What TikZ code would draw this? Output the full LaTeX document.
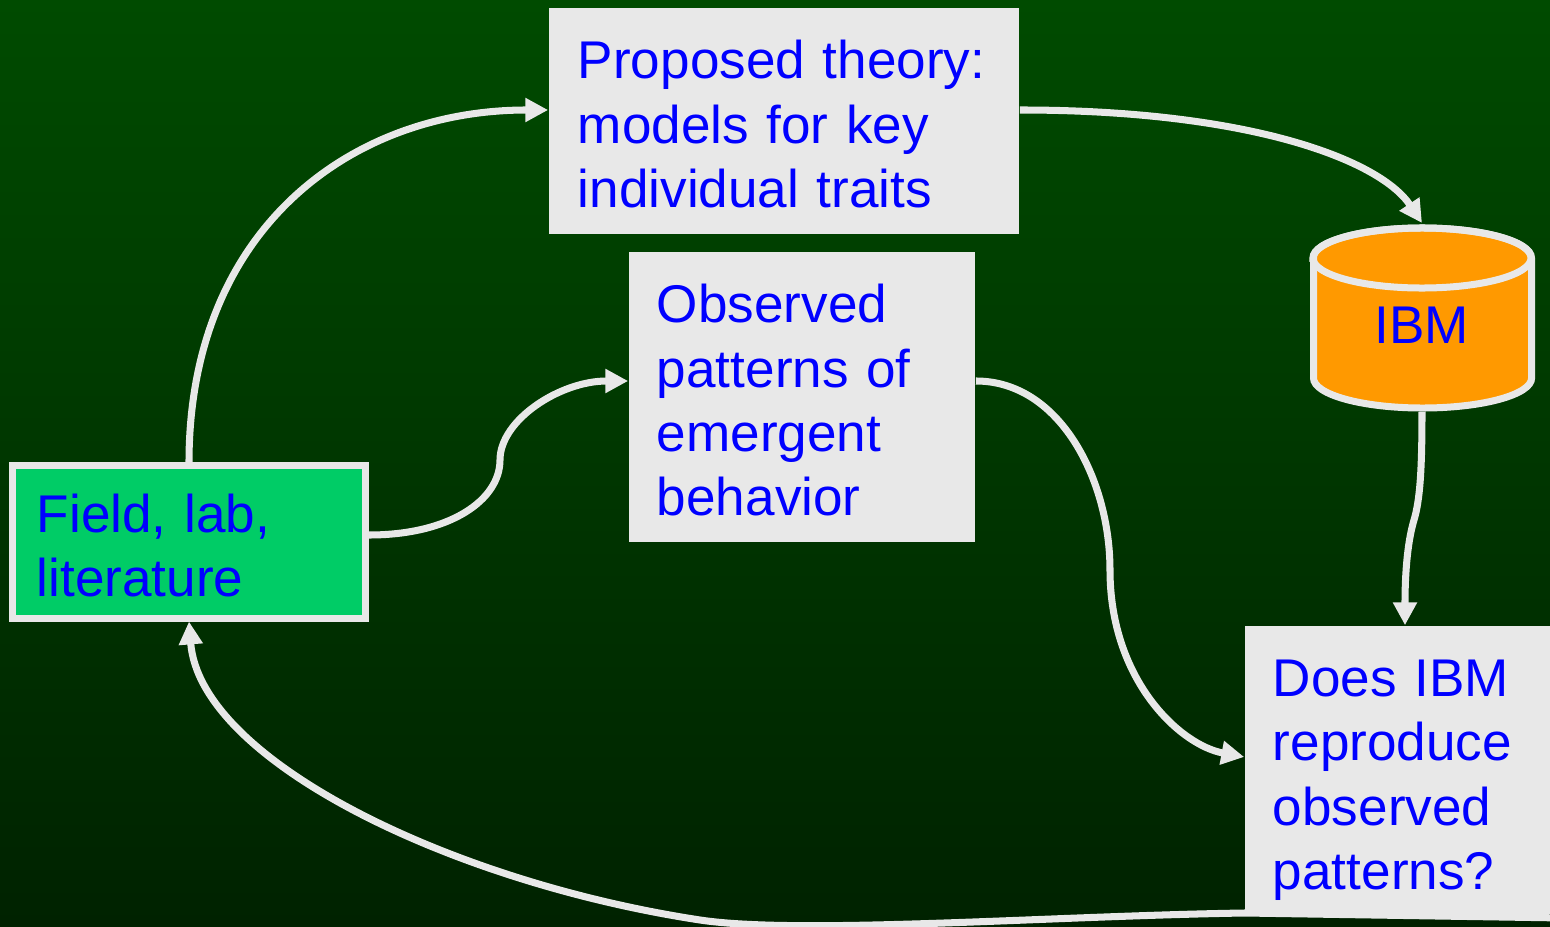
\documentclass[tikz,border=0pt]{standalone}
\usepackage{fontspec}
\setmainfont{Liberation Sans}
\usetikzlibrary{arrows.meta}
\definecolor{boxgray}{HTML}{E8E8E8}
\definecolor{fieldgreen}{HTML}{00CC66}
\definecolor{cylorange}{HTML}{FF9900}
\definecolor{txtblue}{HTML}{0000FF}
\definecolor{bgtop}{HTML}{004B00}
\definecolor{bgbot}{HTML}{002200}
\pgfdeclarelayer{background}
\pgfdeclarelayer{edges}
\pgfsetlayers{background,edges,main}
\begin{document}
\begin{tikzpicture}[x=0.01cm,y=0.01cm,
  txt/.style={text=txtblue, font=\fontsize{15.1}{18.3}\selectfont},
  box/.style={txt, fill=boxgray, align=left, inner ysep=0pt, anchor=center},
  conn/.style={draw=boxgray, line width=2pt, -{Triangle[length=6.5pt,width=6.5pt]}}
]
\useasboundingbox (0,0) rectangle (1550,926);
\begin{pgfonlayer}{background}
  \shade[top color=bgtop, bottom color=bgbot] (0,0) rectangle (1550,926);
\end{pgfonlayer}

\node[box, minimum width=4.70cm, minimum height=2.26cm, text width=4.12cm, inner xsep=0.29cm] (prop) at (784,805) {\rule{0pt}{0.45cm}Proposed theory:\\models for key\\individual traits};
\node[box, minimum width=3.46cm, minimum height=2.90cm, text width=2.90cm, inner xsep=0.28cm] (obs) at (802,529) {\rule{0pt}{0.45cm}Observed\\patterns of\\emergent\\behavior};
\node[box, fill=fieldgreen, draw=boxgray, line width=0.07cm, minimum width=3.53cm, minimum height=1.52cm, text width=3.04cm, inner xsep=0.245cm] (field) at (189,384) {\rule{0pt}{0.45cm}Field, lab,\\literature};
\node[box, minimum width=3.05cm, minimum height=2.88cm, text width=2.49cm, inner xsep=0.28cm] (does) at (1397.5,156) {\rule{0pt}{0.57cm}Does IBM\\reproduce\\observed\\patterns?};

% cylinder
\filldraw[fill=cylorange, draw=boxgray, line width=0.07cm] (1313.5,668) -- (1313.5,548) arc[start angle=180, end angle=360, x radius=1.09cm, y radius=0.30cm] -- (1531.5,668) arc[start angle=0, end angle=180, x radius=1.09cm, y radius=0.30cm] -- cycle;
\draw[boxgray, line width=0.07cm] (1422,668) ellipse [x radius=1.09cm, y radius=0.30cm];
\node[txt] (ibm) at (1422,601) {IBM};
\coordinate (cyltop) at (1422,703);
\coordinate (cylbot) at (1422,514);

% connectors
\draw[conn] (field.north) .. controls (189,696) and (350,816) .. ([yshift=0.11cm]prop.west);
\draw[conn] ([yshift=0.07cm]field.east) .. controls (450,391) and (500,426) .. (500,466) .. controls (500,506) and (560,545) .. ([yshift=0.16cm]obs.west);
\draw[conn] ([yshift=0.11cm]prop.east) .. controls (1250,816) and (1380,766) .. (cyltop);
\draw[conn] ([yshift=0.16cm]obs.east) .. controls (1060,545) and (1110,446) .. (1110,356) .. controls (1110,246) and (1180,181) .. ([yshift=0.13cm]does.west);
\draw[conn] (cylbot) .. controls (1422,456) and (1420,426) .. (1414,406) .. controls (1408,386) and (1405,356) .. ([xshift=0.075cm]does.north);
\begin{pgfonlayer}{edges}
  \draw[conn] ([yshift=-0.03cm]does.south east) -- (1245,13) .. controls (1050,10) and (800,-9) .. (700,6) .. controls (450,44) and (200,166) .. (field.south);
\end{pgfonlayer}
\end{tikzpicture}
\end{document}
